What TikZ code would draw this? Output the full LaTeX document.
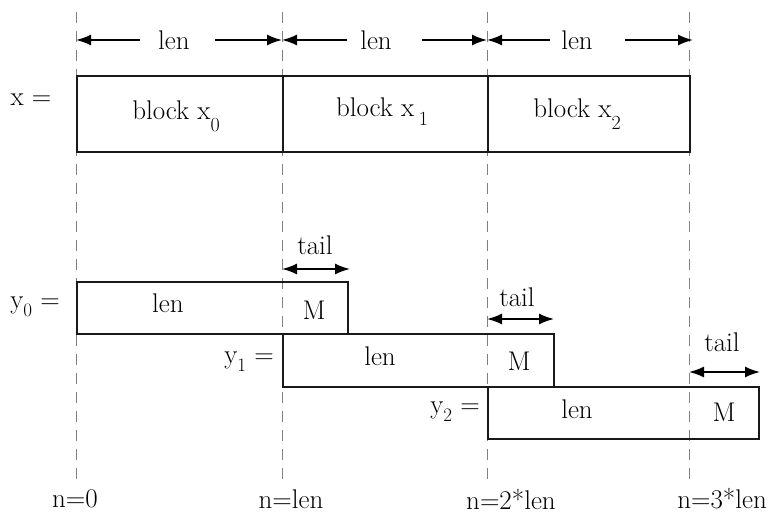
\documentclass[tikz,border=0pt]{standalone}
\usetikzlibrary{arrows.meta}
\newcommand\lsub[2]{#1\raisebox{-0.42em}{\fontsize{20}{20}\selectfont #2}}
\newcommand\ysub[1]{y\raisebox{-0.3em}{\fontsize{19}{19}\selectfont #1}}
\begin{document}
\begin{tikzpicture}[x=1pt,y=-1pt,
  every node/.style={font=\fontsize{27}{30}\selectfont, inner sep=0pt},
  guide/.style={draw=black!50, line width=0.9pt, dash pattern=on 11pt off 8pt},
  blk/.style={draw=black!90, line width=2.3pt, rectangle, minimum height=#1, anchor=north west},
  dim/.style={line width=1.7pt, -{Latex[length=15pt,width=11pt]}},
  dimb/.style={line width=1.7pt, {Latex[length=15pt,width=11pt]}-{Latex[length=15pt,width=11pt]}}]
\useasboundingbox (0,0) rectangle (768,516);
% guide lines
\foreach \i/\x in {0/76,1/282,2/487,3/689}{
  \coordinate (t\i) at (\x,12);
  \coordinate (b\i) at (\x,482);
  \draw[guide] (t\i) -- (b\i);
}
% top dimension arrows
\node (len0) at (174,40) {len};
\node (len1) at (376,40) {len};
\node (len2) at (577,40) {len};
\coordinate (a0l) at (140,40); \coordinate (a0r) at (215,40);
\coordinate (a1l) at (347,40); \coordinate (a1r) at (422,40);
\coordinate (a2l) at (550,40); \coordinate (a2r) at (625,40);
\coordinate (e0) at (76,40); \coordinate (e1) at (282,40);
\coordinate (e2) at (487,40); \coordinate (e3) at (693,40);
\draw[dim] (a0l) -- (e0);
\draw[dim] (a0r) -- (e1);
\draw[dim] (a1l) -- (e1);
\draw[dim] (a1r) -- (e2);
\draw[dim] (a2l) -- (e2);
\draw[dim] (a2r) -- (e3);
% x blocks
\node (xeq) at (31,100) {x =};
\node[blk=76pt, minimum width=206pt] (bx0) at (76,75) {};
\node[blk=76pt, minimum width=205pt] (bx1) at (282,75) {};
\node[blk=76pt, minimum width=202pt] (bx2) at (487,75) {};
\node[anchor=base] (tx0) at (176,120) {block \lsub{x}{0}};
\node[anchor=base] (tx1) at (382,117) {block x\,\raisebox{-0.32em}{\fontsize{20}{20}\selectfont 1}};
\node[anchor=base] (tx2) at (577,118) {block \lsub{x}{2}};
% y blocks
\node[blk=52pt, minimum width=271pt] (y0) at (76,281) {};
\node[blk=53pt, minimum width=271pt] (y1) at (282,333) {};
\node[blk=52pt, minimum width=271pt] (y2) at (487,386) {};
\node (y0eq) at (35,307) {\ysub{0} =};
\node (y1eq) at (249,362) {\ysub{1} =};
\node (y2eq) at (455,412) {\ysub{2} =};
\node (y0len) at (168,303) {len};
\node (y0M) at (314,310) {M};
\node (y1len) at (380,356) {len};
\node (y1M) at (519,361) {M};
\node (y2len) at (577,409) {len};
\node (y2M) at (724,412) {M};
% tails
\node (tl0) at (315,245) {tail};
\node (tl1) at (517,297) {tail};
\node (tl2) at (722,342) {tail};
\coordinate (p0a) at (282,269); \coordinate (p0b) at (350,269);
\coordinate (p1a) at (487,319); \coordinate (p1b) at (554,319);
\coordinate (p2a) at (689,372); \coordinate (p2b) at (760,372);
\draw[dimb] (p0a) -- (p0b);
\draw[dimb] (p1a) -- (p1b);
\draw[dimb] (p2a) -- (p2b);
% bottom labels
\node (n0) at (75,499) {n=0};
\node (n1) at (291,499) {n=len};
\node (n2) at (511,499) {n=2*len};
\node[anchor=east] (n3) at (767,499) {n=3*len};
\end{tikzpicture}
\end{document}
